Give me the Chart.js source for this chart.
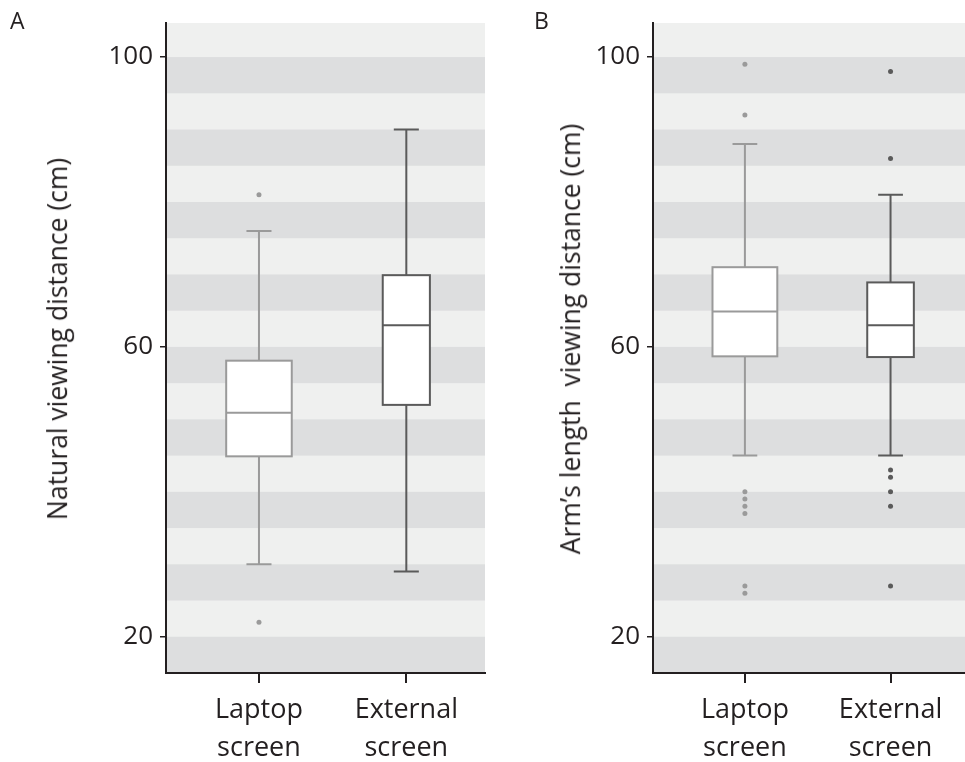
<!DOCTYPE html>
<html>
<head>
<meta charset="utf-8">
<script src="https://cdn.jsdelivr.net/npm/chart.js@4.4.1/dist/chart.umd.min.js"></script>
<style>
  body { margin: 0; background: #fff; font-family: 'Open Sans', sans-serif; color: #231f20; }
  #wrap { position: relative; width: 965px; height: 762px; overflow: hidden; }
  .panel { position: absolute; top: 0; }
  .letter { position: absolute; top: 9px; font-size: 23px; line-height: 1; }
  .ytitle { position: absolute; font-size: 26.5px; line-height: 1.2; white-space: pre;
            transform: translate(-50%, -50%) rotate(-90deg); }
</style>
</head>
<body>
<div id="wrap">
  <canvas id="chartA" class="panel" style="left:0px" width="490" height="762"></canvas>
  <canvas id="chartB" class="panel" style="left:487px" width="484" height="762"></canvas>
  <div class="letter" style="left:10px">A</div>
  <div class="letter" style="left:534px">B</div>
  <div class="ytitle" style="left:58px; top:339px">Natural viewing distance (cm)</div>
  <div class="ytitle" style="left:571px; top:339px">Arm’s length  viewing distance (cm)</div>
</div>
<script>
// categories and tick labels
var categories = ['Laptop screen', 'External screen'];
var tickLabels = [['Laptop', 'screen'], ['External', 'screen']];
var yTicks = [20, 60, 100];
var stripeStarts = [15, 25, 35, 45, 55, 65, 75, 85, 95]; // darker bands, 5 cm each

// A: natural viewing distance
var naturalLow = [30, 29];
var naturalQ1 = [44.9, 52];
var naturalMedian = [50.9, 63];
var naturalQ3 = [58.1, 69.9];
var naturalHigh = [76, 90];
var naturalOutliers = [[81, 22], []];

// B: arm's length viewing distance
var armLow = [45, 45];
var armQ1 = [58.7, 58.6];
var armMedian = [64.9, 63];
var armQ3 = [71, 68.9];
var armHigh = [88, 81];
var armOutliers = [[99, 92, 40, 39, 38, 37, 27, 26], [98, 86, 43, 42, 40, 38, 27]];

var colors = ['#9a9a9a', '#5a5a5a'];
var boxWidths = [0.445, 0.32];  // in x units
var capWidth = 0.17;
var axisColor = '#231f20';

var stripePlugin = {
  id: 'stripes',
  beforeDraw: function (chart) {
    var ctx = chart.ctx, area = chart.chartArea, y = chart.scales.y;
    ctx.save();
    ctx.fillStyle = '#eff0ef';
    ctx.fillRect(area.left, area.top, area.right - area.left, area.bottom - area.top);
    ctx.fillStyle = '#dddedf';
    stripeStarts.forEach(function (s) {
      var top = Math.max(y.getPixelForValue(s + 5), area.top);
      var bottom = Math.min(y.getPixelForValue(s), area.bottom);
      ctx.fillRect(area.left, top, area.right - area.left, bottom - top);
    });
    ctx.restore();
  }
};

var boxPlugin = {
  id: 'boxes',
  beforeDatasetsDraw: function (chart) {
    var st = chart.options.plugins.boxes.stats;
    var ctx = chart.ctx, xs = chart.scales.x, ys = chart.scales.y;
    ctx.save();
    ctx.lineWidth = 2;
    for (var i = 0; i < categories.length; i++) {
      var cx = xs.getPixelForValue(i + 1);
      var half = (xs.getPixelForValue(i + 1 + boxWidths[i] / 2) - cx);
      var capHalf = (xs.getPixelForValue(i + 1 + capWidth / 2) - cx);
      var yLow = ys.getPixelForValue(st.low[i]);
      var yQ1 = ys.getPixelForValue(st.q1[i]);
      var yMed = ys.getPixelForValue(st.median[i]);
      var yQ3 = ys.getPixelForValue(st.q3[i]);
      var yHigh = ys.getPixelForValue(st.high[i]);
      ctx.strokeStyle = colors[i];
      ctx.beginPath();
      ctx.moveTo(cx, yQ3); ctx.lineTo(cx, yHigh);
      ctx.moveTo(cx - capHalf, yHigh); ctx.lineTo(cx + capHalf, yHigh);
      ctx.moveTo(cx, yQ1); ctx.lineTo(cx, yLow);
      ctx.moveTo(cx - capHalf, yLow); ctx.lineTo(cx + capHalf, yLow);
      ctx.stroke();
      ctx.fillStyle = '#ffffff';
      ctx.fillRect(cx - half, yQ3, half * 2, yQ1 - yQ3);
      ctx.strokeRect(cx - half, yQ3, half * 2, yQ1 - yQ3);
      ctx.beginPath();
      ctx.moveTo(cx - half, yMed); ctx.lineTo(cx + half, yMed);
      ctx.stroke();
    }
    ctx.restore();
  }
};

function makeChart(id, xMax, padRight, stats, outliers) {
  var datasets = outliers.map(function (list, i) {
    return {
      label: categories[i],
      data: list.map(function (v) { return { x: i + 1, y: v }; }),
      backgroundColor: colors[i],
      borderWidth: 0,
      pointRadius: 2.5
    };
  });

  return new Chart(document.getElementById(id), {
    type: 'scatter',
    data: { datasets: datasets },
    options: {
      responsive: false,
      animation: false,
      layout: { padding: { top: 23, right: padRight, left: 0, bottom: 0 } },
      plugins: {
        legend: { display: false },
        tooltip: { enabled: false },
        boxes: { stats: stats }
      },
      scales: {
        x: {
          type: 'linear',
          min: 0.369,
          max: xMax,
          afterBuildTicks: function (scale) {
            scale.ticks = [{ value: 1 }, { value: 2 }];
          },
          afterFit: function (scale) { scale.height = 89; },
          ticks: {
            color: axisColor,
            padding: 8,
            maxRotation: 0,
            font: { family: 'Open Sans', size: 27, lineHeight: 1.42 },
            callback: function (v) { return tickLabels[Math.round(v) - 1]; }
          },
          grid: { drawOnChartArea: false, drawTicks: true, tickLength: 10, color: axisColor, lineWidth: 2 },
          border: { display: true, color: axisColor, width: 2 }
        },
        y: {
          min: 15,
          max: 104.7,
          afterBuildTicks: function (scale) {
            scale.ticks = yTicks.map(function (v) { return { value: v }; });
          },
          afterFit: function (scale) { scale.width = 166; },
          ticks: {
            color: axisColor,
            padding: 7,
            font: { family: 'Open Sans', size: 26 }
          },
          grid: { drawOnChartArea: false, drawTicks: true, tickLength: 6, color: axisColor, lineWidth: 1.5 },
          border: { display: true, color: axisColor, width: 2 }
        }
      }
    },
    plugins: [stripePlugin, boxPlugin]
  });
}

makeChart('chartA', 2.534, 5,
  { low: naturalLow, q1: naturalQ1, median: naturalMedian, q3: naturalQ3, high: naturalHigh },
  naturalOutliers);
makeChart('chartB', 2.525, 0,
  { low: armLow, q1: armQ1, median: armMedian, q3: armQ3, high: armHigh },
  armOutliers);
</script>
</body>
</html>
